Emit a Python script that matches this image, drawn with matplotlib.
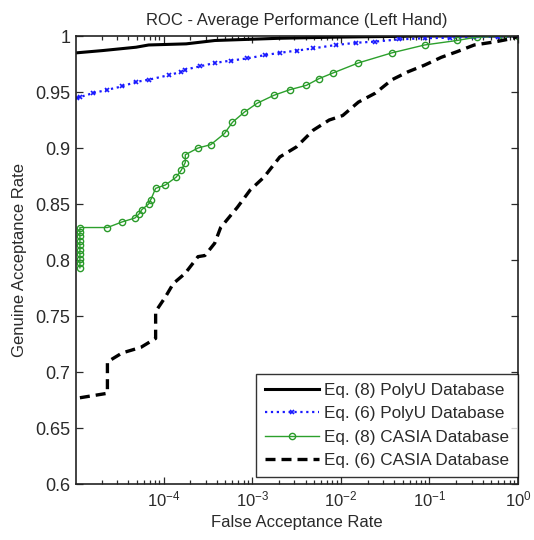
import matplotlib
matplotlib.use("Agg")
import matplotlib.pyplot as plt
import numpy as np
from matplotlib.ticker import LogLocator, FixedLocator, FixedFormatter, NullFormatter

plt.rcParams["font.family"] = ["Liberation Sans", "DejaVu Sans"]
plt.rcParams["mathtext.fontset"] = "custom"
plt.rcParams["mathtext.rm"] = "Liberation Sans"
plt.rcParams["mathtext.it"] = "Liberation Sans:italic"

TEXT = "#2a2a2a"

# Eq. (8) PolyU Database
far_polyu8 = [1.05e-5, 2.05e-5, 4.9e-5, 6.8e-5, 1.8e-4, 3.8e-4, 2.05e-3, 8.8e-3, 8.8e-2, 1.0]
gar_polyu8 = [0.985, 0.987, 0.990, 0.992, 0.993, 0.996, 0.998, 0.999, 1.0, 1.0]

# Eq. (6) PolyU Database
far_polyu6 = [1.05e-5, 1.14e-5, 1.6e-5, 2.33e-5, 3.4e-5, 4.9e-5, 6.8e-5, 1.14e-4, 1.58e-4,
              1.76e-4, 2.6e-4, 3.8e-4, 5.7e-4, 8.8e-4, 1.4e-3, 2.05e-3, 3.2e-3, 4.9e-3,
              8.8e-3, 1.5e-2, 2.45e-2, 4.5e-2, 8.8e-2, 0.17, 0.32, 0.6, 1.0]
gar_polyu6 = [0.945, 0.9455, 0.949, 0.952, 0.955, 0.959, 0.961, 0.965, 0.968,
              0.970, 0.973, 0.976, 0.978, 0.980, 0.983, 0.985, 0.987, 0.989,
              0.992, 0.994, 0.995, 0.997, 0.998, 0.9985, 0.999, 0.9995, 1.0]

# Eq. (8) CASIA Database
far_casia8 = [1.14e-5] * 10 + [2.33e-5, 3.41e-5, 4.76e-5, 5.28e-5, 5.7e-5, 6.8e-5, 7.2e-5,
              8.15e-5, 1.05e-4, 1.39e-4, 1.58e-4, 1.76e-4, 1.76e-4, 2.45e-4, 3.41e-4,
              4.88e-4, 6.0e-4, 8.15e-4, 1.14e-3, 1.75e-3, 2.64e-3, 4.1e-3, 5.7e-3,
              8.15e-3, 1.58e-2, 3.78e-2, 8.8e-2, 0.204, 0.34, 0.68, 1.0]
gar_casia8 = [0.793, 0.797, 0.801, 0.805, 0.809, 0.813, 0.817, 0.821, 0.825, 0.829,
              0.829, 0.834, 0.8375, 0.841, 0.845, 0.850, 0.854, 0.864, 0.867, 0.874,
              0.880, 0.887, 0.894, 0.900, 0.903, 0.913, 0.923, 0.932, 0.940, 0.947,
              0.952, 0.956, 0.962, 0.967, 0.976, 0.985, 0.992, 0.996, 0.999, 1.0, 1.0]

# Eq. (6) CASIA Database
far_casia6 = [1.14e-5, 2.33e-5, 2.33e-5, 3.41e-5, 5.55e-5, 8.15e-5, 8.15e-5, 1.05e-4,
              1.29e-4, 1.75e-4, 2.45e-4, 2.93e-4, 3.78e-4, 4.41e-4, 6.8e-4, 9.5e-4,
              1.36e-3, 2.05e-3, 3.16e-3, 4.9e-3, 7.4e-3, 1.05e-2, 1.58e-2, 2.45e-2,
              3.78e-2, 5.7e-2, 8.8e-2, 0.136, 0.204, 0.32, 0.57, 0.88, 1.0]
gar_casia6 = [0.677, 0.681, 0.709, 0.717, 0.722, 0.730, 0.754, 0.767,
              0.779, 0.788, 0.803, 0.804, 0.815, 0.829, 0.847, 0.8625,
              0.874, 0.892, 0.901, 0.916, 0.925, 0.929, 0.941, 0.949,
              0.961, 0.968, 0.974, 0.981, 0.986, 0.992, 0.995, 0.998, 1.0]

y_ticks = [0.6, 0.65, 0.7, 0.75, 0.8, 0.85, 0.9, 0.95, 1.0]
y_labels = ["0.6", "0.65", "0.7", "0.75", "0.8", "0.85", "0.9", "0.95", "1"]

fig = plt.figure(figsize=(5.34, 5.40), dpi=100)
ax = fig.add_axes([0.1423, 0.1037, 0.828, 0.8296])

ax.plot(far_polyu8, gar_polyu8, "-", color="black", lw=2.2,
        label="Eq. (8) PolyU Database")
ax.plot(far_polyu6, gar_polyu6, ":", color="#1a1aff", lw=1.6, marker="x",
        ms=3.5, mew=1.2, label="Eq. (6) PolyU Database")
ax.plot(far_casia8, gar_casia8, "-", color="#2ca02c", lw=1.0, marker="o",
        ms=4.5, mfc="none", mec="#2a9a2a", mew=1.0, label="Eq. (8) CASIA Database")
ax.plot(far_casia6, gar_casia6, "--", color="black", lw=2.4, dashes=(3, 1.8),
        label="Eq. (6) CASIA Database")

ax.set_xscale("log")
ax.set_xlim(1.03e-5, 1.0)
ax.set_ylim(0.6, 1.0)
ax.xaxis.set_major_locator(FixedLocator([1e-4, 1e-3, 1e-2, 1e-1, 1e0]))
ax.xaxis.set_minor_locator(LogLocator(base=10, subs=np.arange(2, 10), numticks=20))
ax.xaxis.set_minor_formatter(NullFormatter())
ax.yaxis.set_major_locator(FixedLocator(y_ticks))
ax.yaxis.set_major_formatter(FixedFormatter(y_labels))

ax.tick_params(which="both", direction="in", top=True, right=True, colors=TEXT,
               labelsize=13, width=0.9)
ax.tick_params(axis="x", labelsize=12)
ax.tick_params(which="major", length=5, pad=4)
ax.tick_params(which="minor", length=3)
for s in ax.spines.values():
    s.set_linewidth(1.2)
    s.set_color("#222222")

ax.set_title("ROC - Average Performance (Left Hand)", fontsize=12, color=TEXT, pad=8)
ax.set_xlabel("False Acceptance Rate", fontsize=12, color=TEXT, labelpad=4)
ax.set_ylabel("Genuine Acceptance Rate", fontsize=12, color=TEXT, labelpad=6)

leg = ax.legend(loc="lower right", bbox_to_anchor=(1.0, 0.016), fontsize=12.3,
                frameon=True, fancybox=False, borderaxespad=0.0, handlelength=3.2,
                handletextpad=0.3, labelspacing=0.5, borderpad=0.5,
                labelcolor=TEXT)
leg.get_frame().set_edgecolor("black")
leg.get_frame().set_linewidth(1.0)

fig.savefig("out.png", dpi=100)
